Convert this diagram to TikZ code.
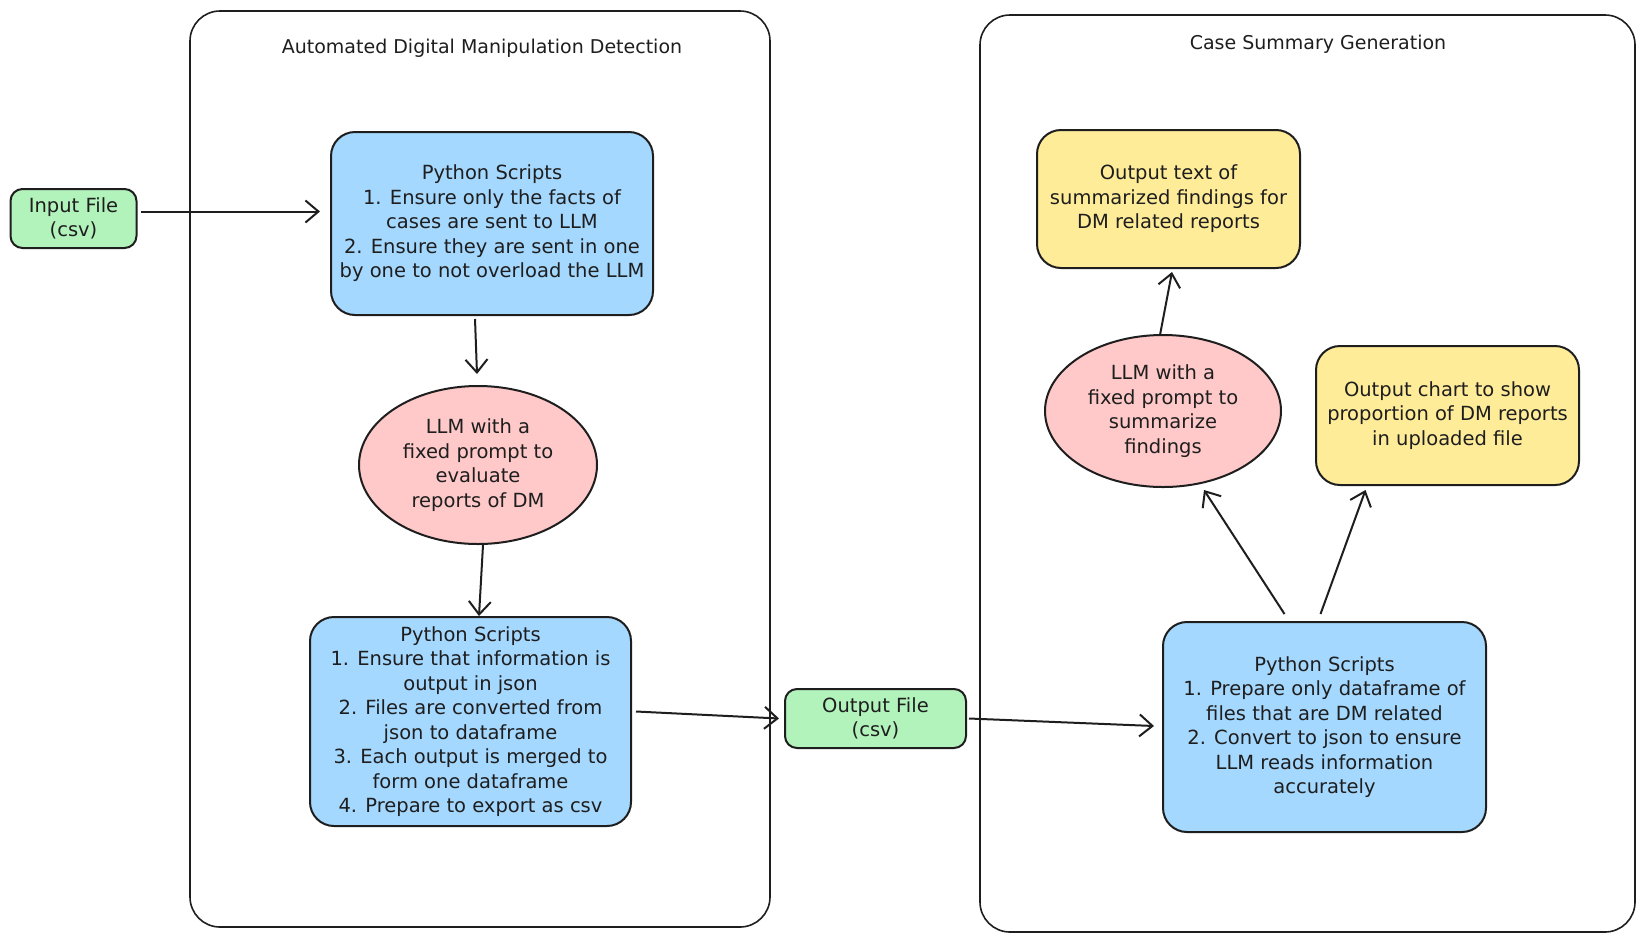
\documentclass[tikz,border=0pt]{standalone}
\usepackage{fontspec}
\setmainfont{DejaVu Sans}
\usetikzlibrary{shapes.geometric,arrows.meta}
\definecolor{pyblue}{HTML}{A5D8FF}
\definecolor{llmpink}{HTML}{FFC9C9}
\definecolor{filegreen}{HTML}{B2F2BB}
\definecolor{outyellow}{HTML}{FFEC99}
\definecolor{ink}{HTML}{1E1E1E}
\tikzset{
  x=1pt, y=-1pt,
  bodytext/.style={font=\fontsize{19.5}{24.5}\selectfont, text=ink, align=center},
  container/.style={draw=ink, line width=1.6pt, rounded corners=30pt, inner sep=0pt},
  boxbase/.style={draw=ink, line width=2pt, rounded corners=24pt, inner sep=0pt, bodytext},
  pybox/.style={boxbase, fill=pyblue},
  filebox/.style={boxbase, fill=filegreen, rounded corners=12pt},
  outbox/.style={boxbase, fill=outyellow},
  llm/.style={ellipse, draw=ink, line width=2pt, fill=llmpink, inner sep=0pt, bodytext},
  title/.style={font=\fontsize{19}{22}\selectfont, text=ink},
  arr/.style={draw=ink, line width=2pt, -{Straight Barb[length=13pt,width=22pt,line width=2pt]}},
}
\begin{document}
\begin{tikzpicture}
\useasboundingbox (0,0) rectangle (1646,943);
% containers
\node[container, minimum width=580pt, minimum height=916pt] (c1) at (480,469) {};
\node[container, minimum width=655pt, minimum height=917pt] (c2) at (1307.5,473.5) {};
\node[title] (t1) at (482,48) {Automated Digital Manipulation Detection};
\node[title] (t2) at (1318,44) {Case Summary Generation};
% nodes
\node[filebox, minimum width=126pt, minimum height=59pt] (in) at (73.5,218.5) {Input File\\(csv)};
\node[pybox, minimum width=322pt, minimum height=183pt] (p1) at (492,223.5) {Python Scripts\\1. Ensure only the facts of\\cases are sent to LLM\\2. Ensure they are sent in one\\by one to not overload the LLM};
\node[llm, minimum width=238pt, minimum height=158pt] (e1) at (478,465) {LLM with a\\fixed prompt to\\evaluate\\reports of DM};
\node[pybox, minimum width=321pt, minimum height=209pt] (p2) at (470.5,721.5) {Python Scripts\\1. Ensure that information is\\output in json\\2. Files are converted from\\json to dataframe\\3. Each output is merged to\\form one dataframe\\4. Prepare to export as csv};
\node[filebox, minimum width=181pt, minimum height=59pt] (o) at (875.5,718.5) {Output File\\(csv)};
\node[pybox, minimum width=323pt, minimum height=210pt] (p3) at (1324.5,727) {Python Scripts\\1. Prepare only dataframe of\\files that are DM related\\2. Convert to json to ensure\\LLM reads information\\accurately};
\node[llm, minimum width=236pt, minimum height=152pt] (e2) at (1163,411) {LLM with a\\fixed prompt to\\summarize\\findings};
\node[outbox, minimum width=263pt, minimum height=138pt] (y1) at (1168.5,199) {Output text of\\summarized findings for\\DM related reports};
\node[outbox, minimum width=263pt, minimum height=139pt] (y2) at (1447.5,415.5) {Output chart to show\\proportion of DM reports\\in uploaded file};
% connectors
\draw[arr] ([xshift=3pt,yshift=7pt]in.east) -- ([xshift=-10pt,yshift=12pt]p1.west);
\draw[arr] ([xshift=-17pt,yshift=-3pt]p1.south) -- ([xshift=-1pt,yshift=11pt]e1.north);
\draw[arr] ([xshift=5pt]e1.south) -- ([xshift=8.5pt]p2.north);
\draw[arr] ([xshift=4pt,yshift=10pt]p2.east) -- ([xshift=-5pt]o.west);
\draw[arr] ([xshift=2pt]o.east) -- ([xshift=-8pt,yshift=1pt]p3.west);
\draw[arr] ([xshift=-40pt,yshift=7pt]p3.north) -- ([xshift=41pt,yshift=-2pt]e2.south);
\draw[arr] ([xshift=-4pt,yshift=7pt]p3.north) -- ([xshift=-82pt,yshift=-4pt]y2.south);
\draw[arr] ([xshift=-3pt,yshift=-1pt]e2.north) -- ([xshift=3.5pt,yshift=-3pt]y1.south);
\end{tikzpicture}
\end{document}
